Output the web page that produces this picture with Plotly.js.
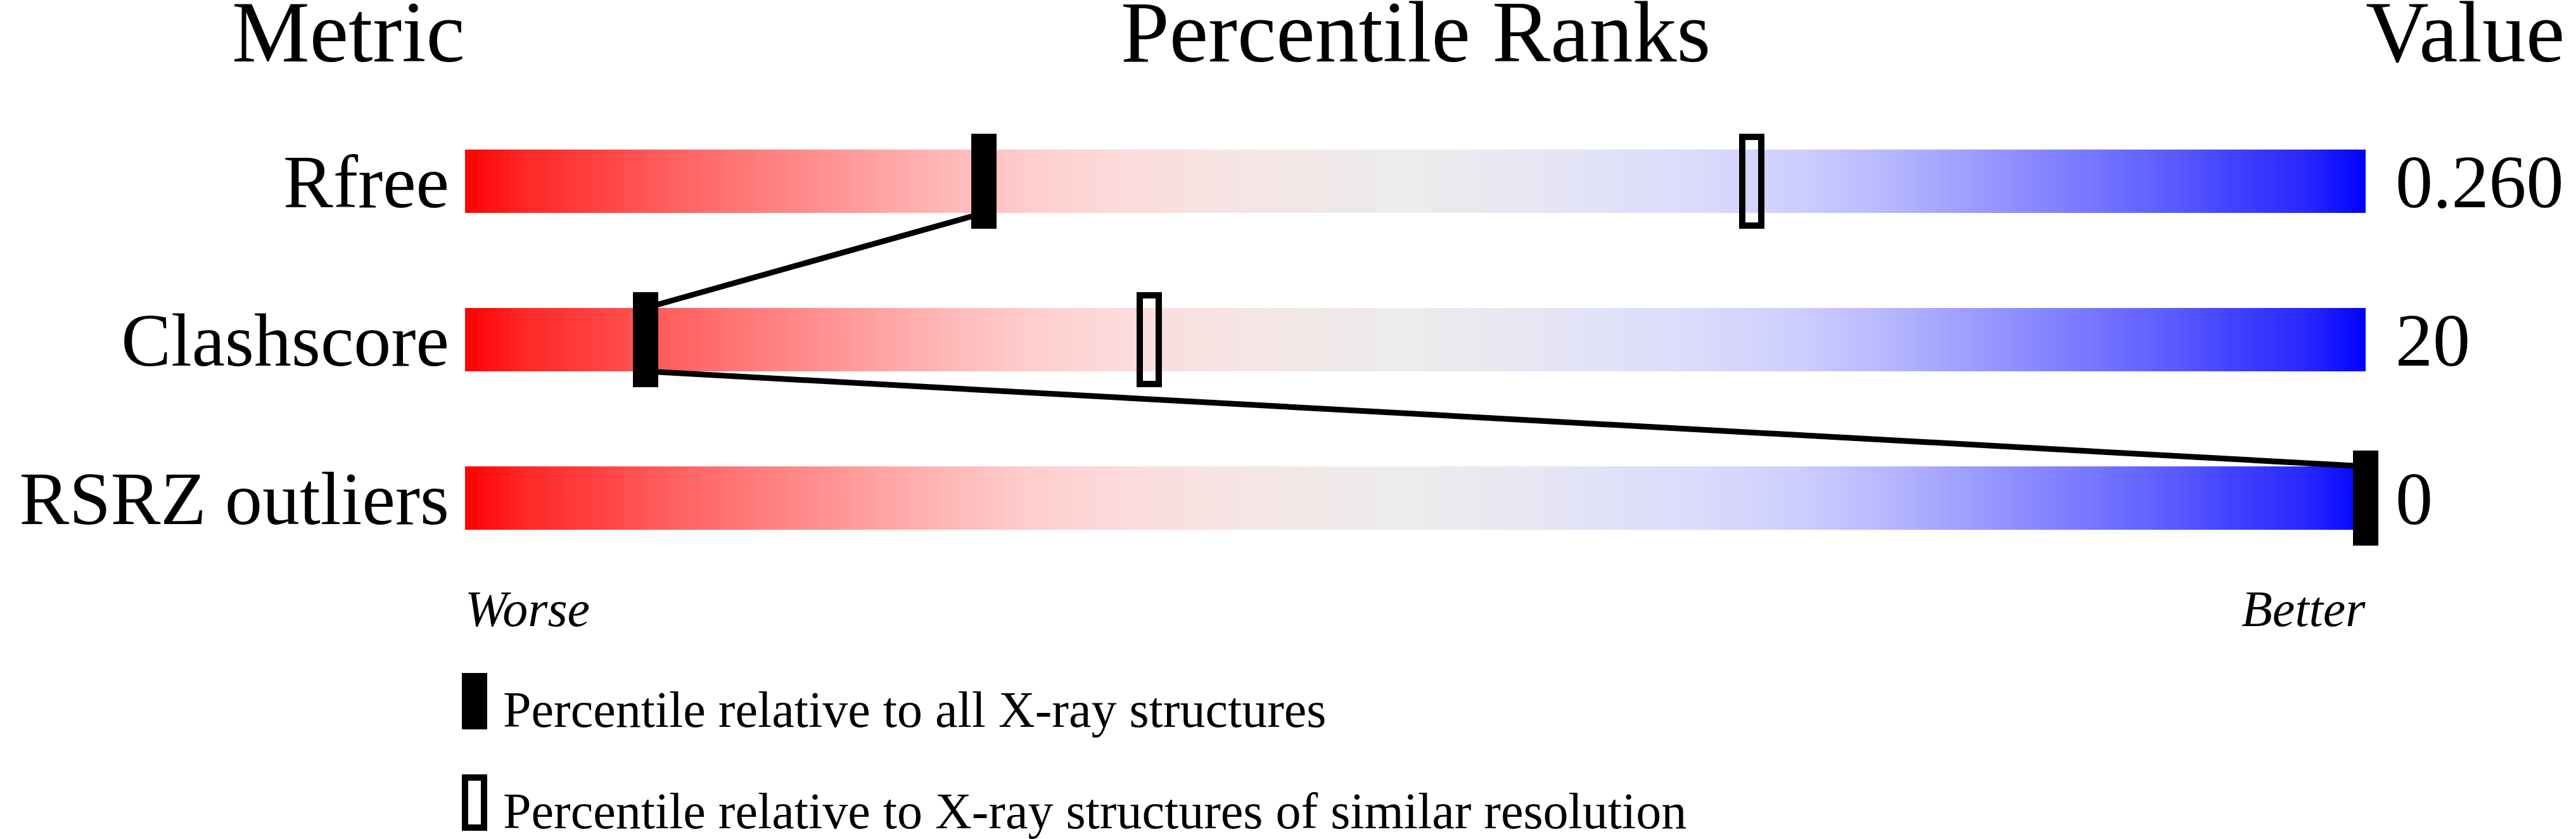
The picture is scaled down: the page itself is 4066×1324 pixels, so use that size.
<!DOCTYPE html>
<html>
<head>
<meta charset="utf-8">
<script src="https://cdn.plot.ly/plotly-3.0.1.min.js"></script>
<style>
  html, body { margin: 0; padding: 0; background: #ffffff; }
  #chart { width: 4066px; height: 1324px; }
</style>
</head>
<body>
<div id="chart"></div>
<script>
// ---- data ----
const metrics = ['Rfree', 'Clashscore', 'RSRZ outliers'];
const metricValues = ['0.260', '20', '0'];
const pctAllXray = [27.3, 9.5, 100];        // filled markers
const pctSimilarRes = [67.7, 36.0, 100];    // open markers
const headers = ['Metric', 'Percentile Ranks', 'Value'];
const endLabels = ['Worse', 'Better'];
const legendLabels = [
  'Percentile relative to all X-ray structures',
  'Percentile relative to X-ray structures of similar resolution'
];

// ---- style constants ----
const FONT = 'Liberation Serif, Times New Roman, serif';
const BAR_HALF = 0.2;         // half bar thickness in row units (100px of 250px)
const N_COLS = 300;           // gradient resolution
const X_PAD = 20 / 30;        // 20px room on each side so edge markers are not clipped
const rowIdx = metrics.map((_, i) => i);

// gradient colour ramp (red -> grey -> blue)
const ramp = [
  [0.00, 'rgb(255,0,0)'],
  [0.03, 'rgb(255,38,38)'],
  [0.07, 'rgb(255,66,66)'],
  [0.10, 'rgb(255,90,90)'],
  [0.15, 'rgb(255,122,122)'],
  [0.20, 'rgb(255,152,152)'],
  [0.25, 'rgb(255,182,182)'],
  [0.30, 'rgb(255,206,206)'],
  [0.35, 'rgb(252,220,220)'],
  [0.42, 'rgb(244,230,230)'],
  [0.50, 'rgb(236,236,236)'],
  [0.58, 'rgb(228,228,246)'],
  [0.65, 'rgb(218,218,252)'],
  [0.70, 'rgb(206,206,255)'],
  [0.75, 'rgb(182,182,255)'],
  [0.80, 'rgb(152,152,255)'],
  [0.85, 'rgb(122,122,255)'],
  [0.90, 'rgb(90,90,255)'],
  [0.93, 'rgb(66,66,255)'],
  [0.97, 'rgb(38,38,255)'],
  [1.00, 'rgb(0,0,255)']
];

// gradient background cells (percentile scale 0..100)
const gx = [], gzRow = [];
for (let k = 0; k < N_COLS; k++) {
  const c = (k + 0.5) * 100 / N_COLS;
  gx.push(c); gzRow.push(c);
}
const gz = metrics.map(() => gzRow.slice());

const traces = [];
traces.push({
  type: 'heatmap',
  x: gx, y: rowIdx, z: gz,
  zmin: 0, zmax: 100,
  colorscale: ramp,
  showscale: false,
  ygap: 150,
  hoverinfo: 'skip'
});

// connecting line between the filled markers
const lx = [], ly = [];
for (let i = 0; i < pctAllXray.length; i++) {
  if (i > 0) { lx.push(pctAllXray[i]); ly.push(i - BAR_HALF); }
  if (i < pctAllXray.length - 1) { lx.push(pctAllXray[i]); ly.push(i + BAR_HALF); }
}
traces.push({
  type: 'scatter', mode: 'lines',
  x: lx, y: ly,
  line: { color: '#000000', width: 9 },
  hoverinfo: 'skip', showlegend: false
});

// invisible trace on the right-hand axis so its labels are drawn
traces.push({
  type: 'scatter', mode: 'markers',
  x: rowIdx.map(() => 50), y: rowIdx, yaxis: 'y2',
  marker: { opacity: 0 }, hoverinfo: 'skip', showlegend: false
});

// markers as shapes anchored at data positions, sized in pixels
const shapes = [];
pctSimilarRes.forEach((p, i) => {
  if (p === null) return;
  shapes.push({
    type: 'rect', xref: 'x', yref: 'y',
    xsizemode: 'pixel', xanchor: p, x0: -15, x1: 15,
    ysizemode: 'pixel', yanchor: i, y0: -70, y1: 70,
    line: { color: '#000000', width: 10 },
    fillcolor: 'rgba(0,0,0,0)'
  });
});
pctAllXray.forEach((p, i) => {
  shapes.push({
    type: 'rect', xref: 'x', yref: 'y',
    xsizemode: 'pixel', xanchor: p, x0: -20, x1: 20,
    ysizemode: 'pixel', yanchor: i, y0: -75, y1: 75,
    line: { width: 0 },
    fillcolor: '#000000'
  });
});
// legend keys
shapes.push({
  type: 'rect', xref: 'paper', yref: 'paper',
  x0: 0.004934, x1: 0.018092, y0: -0.20133, y1: -0.32,
  line: { width: 0 }, fillcolor: '#000000'
});
shapes.push({
  type: 'rect', xref: 'paper', yref: 'paper',
  x0: 0.006579, x1: 0.016447, y0: -0.42133, y1: -0.52667,
  line: { color: '#000000', width: 10 }, fillcolor: 'rgba(0,0,0,0)'
});

const annotations = [
  { text: headers[0], x: 0, xanchor: 'right', y: 1.0453, size: 138, italic: false },
  { text: headers[1], x: 50, xanchor: 'center', y: 1.0453, size: 138, italic: false },
  { text: headers[2], x: 100, xanchor: 'left', y: 1.0453, size: 138, italic: false },
  { text: endLabels[0], x: 0, xanchor: 'left', y: -0.1253, size: 80, italic: true },
  { text: endLabels[1], x: 100, xanchor: 'right', y: -0.1253, size: 80, italic: true },
  { text: legendLabels[0], x: 2.0, xanchor: 'left', y: -0.3373, size: 80, italic: false },
  { text: legendLabels[1], x: 2.0, xanchor: 'left', y: -0.5507, size: 80, italic: false }
].map(a => ({
  text: a.text, xref: 'x', yref: 'paper',
  x: a.x, y: a.y, xanchor: a.xanchor, yanchor: 'bottom',
  showarrow: false, borderpad: 0, borderwidth: 0,
  font: { family: FONT, size: a.size, color: '#000000', style: a.italic ? 'italic' : 'normal' }
}));

const layout = {
  width: 4066, height: 1324,
  margin: { l: 714, r: 312, t: 161, b: 413, pad: 0 },
  paper_bgcolor: '#ffffff', plot_bgcolor: '#ffffff',
  showlegend: false,
  xaxis: {
    range: [-X_PAD, 100 + X_PAD], showgrid: false, zeroline: false, showline: false,
    showticklabels: false, ticks: '', fixedrange: true
  },
  yaxis: {
    range: [2.5, -0.5], showgrid: false, zeroline: false, showline: false,
    tickmode: 'array', tickvals: rowIdx, ticktext: metrics, ticks: '',
    ticklabelstandoff: 4,
    tickfont: { family: FONT, size: 118, color: '#000000' }, fixedrange: true
  },
  yaxis2: {
    overlaying: 'y', side: 'right', anchor: 'x',
    range: [2.5, -0.5], showgrid: false, zeroline: false, showline: false,
    tickmode: 'array', tickvals: rowIdx, ticktext: metricValues, ticks: '',
    ticklabelstandoff: 26,
    tickfont: { family: FONT, size: 118, color: '#000000' }, fixedrange: true
  },
  shapes: shapes,
  annotations: annotations
};

Plotly.newPlot('chart', traces, layout, { staticPlot: true, displayModeBar: false });
</script>
</body>
</html>
